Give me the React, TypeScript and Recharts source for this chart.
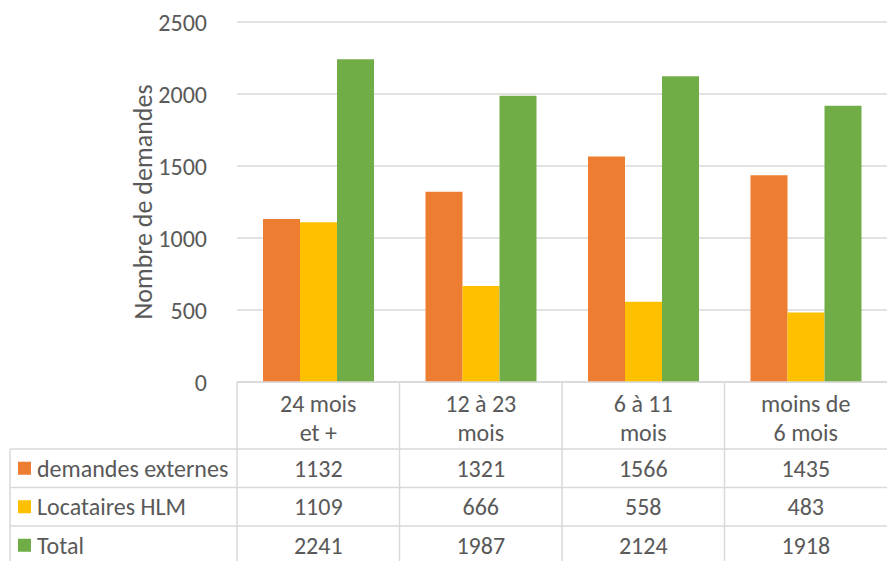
import React from 'react';
import { BarChart, Bar, XAxis, YAxis, CartesianGrid } from 'recharts';

const categories = ['24 mois et +', '12 à 23 mois', '6 à 11 mois', 'moins de 6 mois'];
const categoryLines = [['24 mois', 'et +'], ['12 à 23', 'mois'], ['6 à 11', 'mois'], ['moins de', '6 mois']];
const externes = [1132, 1321, 1566, 1435];
const locataires = [1109, 666, 558, 483];
const total = [2241, 1987, 2124, 1918];
const yTicks = [0, 500, 1000, 1500, 2000, 2500];

const series = [
  { key: 'externes', name: 'demandes externes', color: '#ED7D31', values: externes },
  { key: 'locataires', name: 'Locataires HLM', color: '#FFC000', values: locataires },
  { key: 'total', name: 'Total', color: '#70AD47', values: total },
];

const data = categories.map((c, i) => ({
  name: c,
  externes: externes[i],
  locataires: locataires[i],
  total: total[i],
}));

const W = 888;
const H = 561;
const AXIS_W = 237;
const RIGHT = 1;
const TEXT = '#595959';
const LINE = '#D9D9D9';
const FONT = "Calibri, Carlito, Lato, sans-serif";
const FS = 24;
const colW = (W - AXIS_W - RIGHT) / categories.length;

// header row then one row per series
const headerH = 67;
const rowH = 38.5;

const TableTick = (props: any) => {
  const { x, y, payload } = props;
  const i = payload.index;
  const left = x - colW / 2;
  const right = x + colW / 2;
  const bottom = H;
  const rowTops = series.map((_, r) => y + headerH + r * rowH);
  return (
    <g fontFamily={FONT} fontSize={FS} fill={TEXT}>
      <line x1={left} x2={left} y1={y} y2={bottom} stroke={LINE} strokeWidth={1.5} />
      {rowTops.map((t, r) => (
        <line key={r} x1={left} x2={right} y1={t} y2={t} stroke={LINE} strokeWidth={1.5} />
      ))}
      {categoryLines[i].map((l, k) => (
        <text key={k} x={x} y={y + 21 + k * 29} textAnchor="middle" dominantBaseline="central">
          {l}
        </text>
      ))}
      {series.map((s, r) => (
        <text key={s.key} x={x} y={rowTops[r] + rowH / 2} textAnchor="middle" dominantBaseline="central">
          {s.values[i]}
        </text>
      ))}
      {i === 0 && (
        <g>
          <line x1={10} x2={10} y1={rowTops[0]} y2={bottom} stroke={LINE} strokeWidth={1.5} />
          {rowTops.map((t, r) => (
            <line key={r} x1={10} x2={left} y1={t} y2={t} stroke={LINE} strokeWidth={1.5} />
          ))}
          {series.map((s, r) => (
            <g key={s.key}>
              <rect x={18} y={rowTops[r] + rowH / 2 - 6.5} width={13} height={13} fill={s.color} />
              <text x={37} y={rowTops[r] + rowH / 2} dominantBaseline="central">
                {s.name}
              </text>
            </g>
          ))}
        </g>
      )}
    </g>
  );
};

const YLabel = (props: any) => {
  const { viewBox } = props;
  const cy = viewBox.y + viewBox.height / 2;
  return (
    <text
      x={143}
      y={cy}
      transform={`rotate(-90 143 ${cy})`}
      textAnchor="middle"
      dominantBaseline="central"
      fontFamily={FONT}
      fontSize={26}
      fill={TEXT}
    >
      Nombre de demandes
    </text>
  );
};

export default function App() {
  return (
    <div style={{ position: 'absolute', left: 0, top: 0, background: '#fff' }}>
      <BarChart
        width={W}
        height={H}
        data={data}
        margin={{ top: 22, right: RIGHT, left: 0, bottom: 0 }}
        barCategoryGap="16%"
        barGap={0}
      >
        <CartesianGrid vertical={false} stroke={LINE} strokeWidth={1.5} />
        <XAxis
          dataKey="name"
          height={H - 382}
          axisLine={{ stroke: LINE, strokeWidth: 1.5 }}
          tickLine={false}
          tickSize={0}
          tickMargin={0}
          interval={0}
          tick={<TableTick />}
        />
        <YAxis
          width={AXIS_W}
          domain={[0, 2500]}
          ticks={yTicks}
          axisLine={false}
          tickLine={false}
          tickMargin={24}
          tick={{ fontFamily: FONT, fontSize: FS, fill: TEXT }}
          label={<YLabel />}
        />
        {series.map((s) => (
          <Bar key={s.key} dataKey={s.key} name={s.name} fill={s.color} isAnimationActive={false} />
        ))}
      </BarChart>
    </div>
  );
}
